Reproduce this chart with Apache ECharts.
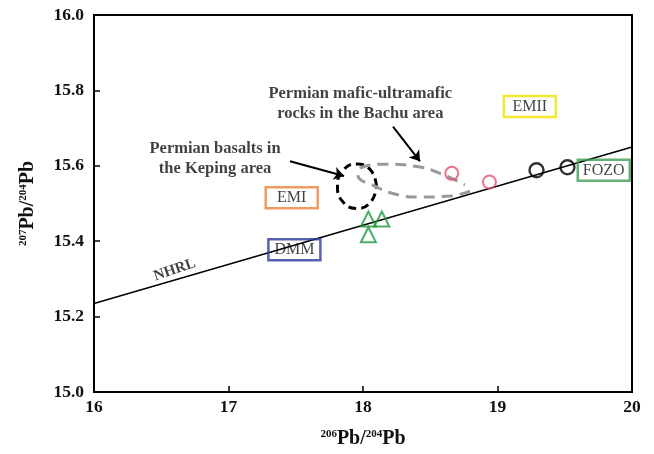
<!DOCTYPE html>
<html><head><meta charset="utf-8">
<script src="https://cdn.jsdelivr.net/npm/echarts@6/dist/echarts.min.js"></script>
<style>html,body{margin:0;padding:0;background:#fff}#c{width:654px;height:454px}</style>
</head><body><div id="c"></div>
<script>
// ---- data ----
var xTicks = [16, 17, 18, 19, 20];
var yTicks = [15.0, 15.2, 15.4, 15.6, 15.8, 16.0];
var nhrl = [[16, 15.235], [20, 15.65]];
var triangles = [[18.04, 15.459], [18.14, 15.459], [18.04, 15.417]];
var redCircles = [[18.66, 15.58], [18.94, 15.557]];
var blackCircles = [[19.29, 15.588], [19.52, 15.596]];
var kepingField = [[18.10, 15.546], [18.058, 15.588], [17.955, 15.605], [17.852, 15.588], [17.81, 15.546], [17.852, 15.504], [17.955, 15.487], [18.058, 15.504], [18.10, 15.546]];
var bachuField = [[18.796, 15.533], [18.647, 15.520], [18.424, 15.517], [18.238, 15.525], [18.089, 15.546], [17.963, 15.575], [17.993, 15.596], [18.164, 15.604], [18.387, 15.599], [18.572, 15.580], [18.758, 15.549]];
var boxLabels = [
  {name: 'EMI', pos: [17.47, 15.515], color: '#e8823a'},
  {name: 'DMM', pos: [17.49, 15.377], color: '#2b3a9c'},
  {name: 'EMII', pos: [19.24, 15.757], color: '#f2e200'},
  {name: 'FOZO', pos: [19.79, 15.588], color: '#3d9e55'}
];
var notes = [
  {text: 'Permian mafic-ultramafic\nrocks in the Bachu area', pos: [17.98, 15.765]},
  {text: 'Permian basalts in\nthe Keping area', pos: [16.9, 15.62]}
];
var arrows = [
  [[17.457, 15.612], [17.859, 15.573]],
  [[18.223, 15.704], [18.424, 15.612]]
];
var nhrlLabel = {text: 'NHRL', pos: [16.6, 15.324]};

var serif = '"Liberation Serif", "DejaVu Serif", serif';
var chart = echarts.init(document.getElementById('c'));
var series = [
  {type: 'line', data: nhrl, symbol: 'none', lineStyle: {color: '#000', width: 1.5}, z: 2, silent: true},
  {type: 'line', data: kepingField, symbol: 'none', smooth: true, lineStyle: {color: '#000', width: 3, type: [8, 5]}, z: 3},
  {type: 'line', data: bachuField, symbol: 'none', smooth: true, lineStyle: {color: '#999', width: 3, type: [11, 7]}, z: 3},
  {type: 'scatter', data: triangles, symbol: 'triangle', symbolSize: 15, itemStyle: {color: 'rgba(0,0,0,0)', borderColor: '#1d9a3c', borderWidth: 2}, z: 5},
  {type: 'scatter', data: redCircles, symbol: 'circle', symbolSize: 13, itemStyle: {color: 'rgba(0,0,0,0)', borderColor: '#e5506c', borderWidth: 2}, z: 5},
  {type: 'scatter', data: blackCircles, symbol: 'circle', symbolSize: 14, itemStyle: {color: 'rgba(0,0,0,0)', borderColor: '#000', borderWidth: 2.4}, z: 5},
  {type: 'lines', coordinateSystem: 'cartesian2d', data: arrows.map(function(a){return {coords: a};}),
   symbol: ['none', 'arrow'], symbolSize: 10, lineStyle: {color: '#000', width: 2, opacity: 1}, z: 4},
  {type: 'scatter', symbolSize: 0, z: 6,
   data: boxLabels.map(function(b){return {value: b.pos, label: {show: true, position: 'inside', formatter: b.name,
     fontFamily: serif, fontSize: 16, color: '#111', borderColor: b.color, borderWidth: 2.5,
     width: 38, align: 'center', overflow: 'none', padding: [3, 7, 2, 7]}};})},
  {type: 'scatter', symbolSize: 0, z: 6,
   data: notes.map(function(n){return {value: n.pos, label: {show: true, position: 'inside', formatter: n.text,
     fontFamily: serif, fontSize: 16.5, fontWeight: 'bold', color: '#111', lineHeight: 20, align: 'center'}};})},
  {type: 'scatter', symbolSize: 0, z: 6,
   data: [{value: nhrlLabel.pos, label: {show: true, position: 'inside', formatter: nhrlLabel.text, rotate: 19,
     fontFamily: serif, fontSize: 15, fontWeight: 'bold', color: '#111'}}]}
];
chart.setOption({
  animation: false,
  grid: {left: 94, right: 22, top: 15, bottom: 60, show: true, borderColor: '#000', borderWidth: 2},
  xAxis: {type: 'value', min: xTicks[0], max: xTicks[xTicks.length-1], interval: 1,
    splitLine: {show: false}, axisLine: {lineStyle: {color: '#000', width: 2}},
    axisTick: {inside: true, length: 6, lineStyle: {color: '#000', width: 1.5}},
    axisLabel: {fontFamily: serif, fontSize: 17.5, fontWeight: 'bold', color: '#111', margin: 6},
    name: '{s|206}{m|Pb/}{s|204}{m|Pb}', nameLocation: 'middle', nameGap: 37,
    nameTextStyle: {rich: {s: {fontFamily: serif, fontSize: 11, fontWeight: 'bold', color: '#111', verticalAlign: 'top', padding: [0,0,9,0]},
                           m: {fontFamily: serif, fontSize: 20, fontWeight: 'bold', color: '#111'}}}},
  yAxis: {type: 'value', min: yTicks[0], max: yTicks[yTicks.length-1], interval: 0.2,
    splitLine: {show: false}, axisLine: {lineStyle: {color: '#000', width: 2}},
    axisTick: {inside: true, length: 6, lineStyle: {color: '#000', width: 1.5}},
    axisLabel: {fontFamily: serif, fontSize: 17.5, fontWeight: 'bold', color: '#111', margin: 10,
      formatter: function(v){return v.toFixed(1);}},
    name: '{s|207}{m|Pb/}{s|204}{m|Pb}', nameLocation: 'middle', nameGap: 56,
    nameTextStyle: {rich: {s: {fontFamily: serif, fontSize: 11, fontWeight: 'bold', color: '#111', verticalAlign: 'top', padding: [0,0,9,0]},
                           m: {fontFamily: serif, fontSize: 20, fontWeight: 'bold', color: '#111'}}}},
  series: series
});
</script></body></html>
